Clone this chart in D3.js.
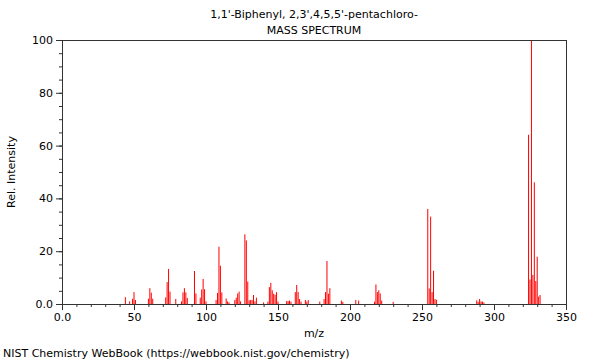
<!DOCTYPE html>
<html><head><meta charset="utf-8">
<script src="https://cdn.jsdelivr.net/npm/d3@7"></script>
<style>body{margin:0;background:#fff}svg{display:block}text{font-family:"DejaVu Sans",sans-serif;fill:#000}</style>
</head><body><svg id="c" width="600" height="360"></svg>
<script>
const titleLines = ["1,1'-Biphenyl, 2,3',4,5,5'-pentachloro-", "MASS SPECTRUM"];
const mz = [44,47,49,50,51,60,61,62,63,72,73,74,75,79,83,84,85,86,87,92,93,96,97,98,99,100,
 107,108,109,110,111,114,115,116,120,121,122,123,124,127,128,129,130,131,132,133,134,135,140,
 143,144,145,146,147,148,149,150,156,157,158,159,162,163,164,165,166,169,170,171,179,182,183,184,185,186,
 194,195,204,206,217,218,219,220,221,222,230,254,255,256,257,258,259,260,288,289,290,291,292,293,
 324,325,326,327,328,329,330,331,332];
const intensity = [2.6,1,2,4.5,1.5,2,6,4.3,2,2.5,8.3,13.3,4.7,1.9,1,4.4,6,4.4,2.3,12.5,4,2.4,5.5,9.5,5.6,1,
 1.5,4.2,21.7,14.5,4.4,2.1,1,0.6,1.5,2.4,4,4.7,1,26.4,24.1,8.5,1.4,1.5,1.5,3.4,1,2.4,0.6,
 0.9,6.4,8,5.2,3.9,3.5,4.5,0.9,1.1,1.1,1.3,0.9,4.5,7.2,4.5,1.9,0.9,1.5,0.9,1.5,0.9,1.9,4.5,16.3,3.9,6,
 1.3,0.8,1.5,1.3,0.9,7.4,4.5,5.2,4,1.3,0.8,36,5.9,33.1,4.5,12.6,1.9,1.6,1.4,0.8,1.9,1,0.9,0.6,
 64.1,9.3,100,11,46.1,8.7,17.9,2.8,3.4];
const xTicks = [0,50,100,150,200,250,300,350];
const yTicks = [0,20,40,60,80,100];
const xLabel = "m/z", yLabel = "Rel. Intensity";
const footer = "NIST Chemistry WebBook (https://webbook.nist.gov/chemistry)";

const svg = d3.select("#c");
const L=62, R=566, T=40, B=304;
const x = d3.scaleLinear().domain([0,350]).range([L,R]);
const y = d3.scaleLinear().domain([0,100]).range([B,T]);
const fmt = v => v===0 ? "0.0" : String(v);

// bars
svg.append("g").selectAll("rect").data(mz).join("rect")
  .attr("x", (d)=>x(d)-0.5).attr("width",1)
  .attr("y", (d,i)=>y(intensity[i])).attr("height",(d,i)=>B-y(intensity[i]))
  .attr("fill","#ff0000");

// frame
svg.append("rect").attr("x",L).attr("y",T).attr("width",R-L).attr("height",B-T)
  .attr("fill","none").attr("stroke","#333").attr("stroke-width",1).attr("shape-rendering","crispEdges");

// x axis
const gx = svg.append("g").attr("transform",`translate(0,${B})`);
gx.call(d3.axisBottom(x).tickValues(d3.range(0,351,10)).tickSize(3).tickFormat(""))
  .call(g=>g.select(".domain").remove());
gx.append("g").call(d3.axisBottom(x).tickValues(xTicks).tickSize(6).tickFormat(fmt))
  .call(g=>g.select(".domain").remove())
  .call(g=>g.selectAll("text").attr("font-size",11).attr("dy","0.9em").attr("y",7));
gx.selectAll("line").attr("stroke","#333");

// y axis
const gy = svg.append("g").attr("transform",`translate(${L},0)`);
gy.call(d3.axisLeft(y).tickValues(d3.range(0,101,5)).tickSize(3).tickFormat(""))
  .call(g=>g.select(".domain").remove());
gy.append("g").call(d3.axisLeft(y).tickValues(yTicks).tickSize(6).tickFormat(fmt))
  .call(g=>g.select(".domain").remove())
  .call(g=>g.selectAll("text").attr("font-size",11).attr("x",-9));
gy.selectAll("line").attr("stroke","#333");
svg.selectAll(".tick text").attr("fill","#000").attr("font-family","DejaVu Sans, sans-serif");

// titles
svg.append("text").attr("x",314).attr("y",18).attr("text-anchor","middle").attr("font-size",11).text(titleLines[0]);
svg.append("text").attr("x",314).attr("y",34).attr("text-anchor","middle").attr("font-size",11).text(titleLines[1]);
svg.append("text").attr("x",314).attr("y",337).attr("text-anchor","middle").attr("font-size",11).text(xLabel);
svg.append("text").attr("transform",`translate(15,${(T+B)/2}) rotate(-90)`).attr("text-anchor","middle").attr("font-size",11).text(yLabel);
svg.append("text").attr("x",3).attr("y",357).attr("font-size",11).text(footer);
</script></body></html>
